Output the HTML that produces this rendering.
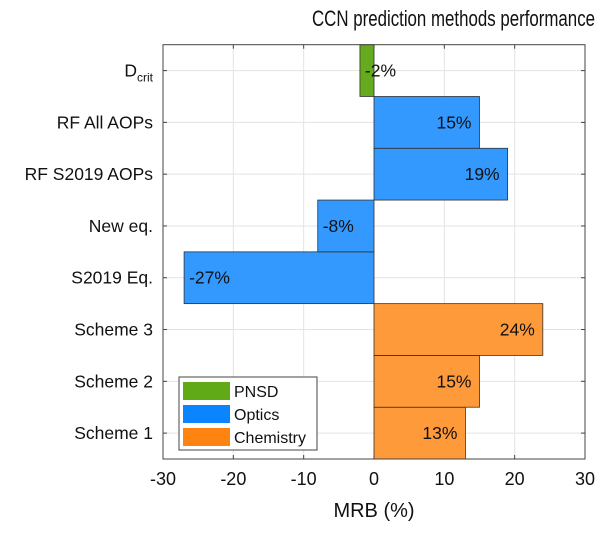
<!DOCTYPE html>
<html><head><meta charset="utf-8"><style>
body{margin:0;background:#fff;}
svg text{font-family:"Liberation Sans",Arial,sans-serif;fill:#111;}
</style></head><body>
<svg id="chart" width="600" height="528" viewBox="0 0 600 528" xmlns="http://www.w3.org/2000/svg"></svg>
<script>
const categories = ["Scheme 1","Scheme 2","Scheme 3","S2019 Eq.","New eq.","RF S2019 AOPs","RF All AOPs","Dcrit"];
const values = [13,15,24,-27,-8,19,15,-2];
const groups = ["Chemistry","Chemistry","Chemistry","Optics","Optics","Optics","Optics","PNSD"];
const xTicks = [-30,-20,-10,0,10,20,30];
const legendItems = ["PNSD","Optics","Chemistry"];

const svg = document.getElementById('chart');
const NS = "http://www.w3.org/2000/svg";
const L=163,R=585,T=44.7,B=459;
const xs = v => L + (v+30)/60*(R-L);
const ys = i => B - (i+0.5)/8*(B-T);
const barColor={PNSD:"#66aa1e",Optics:"#3399ff",Chemistry:"#ff9a3a"};
const legColor={PNSD:"#60a917",Optics:"#0a84ff",Chemistry:"#ff8310"};
function mk(tag,attrs,parent){const e=document.createElementNS(NS,tag);for(const k in attrs)e.setAttribute(k,attrs[k]);(parent||svg).appendChild(e);return e;}

mk('rect',{x:L,y:T,width:R-L,height:B-T,fill:'#fff'});
xTicks.forEach(t=>{
  const g=mk('line',{x1:xs(t),x2:xs(t),y1:T,y2:B,stroke:'#e3e3e3','stroke-width':1});
  
  
  const tl=mk('text',{x:xs(t),y:B+26,'text-anchor':'middle','font-size':18});
  tl.textContent=t;
  
  
  mk('line',{x1:xs(t),x2:xs(t),y1:B,y2:B-4,stroke:'#444'});
  mk('line',{x1:xs(t),x2:xs(t),y1:T,y2:T+4,stroke:'#444'});
});
categories.forEach((c,i)=>{
  const y=ys(i);
  const g=mk('line',{x1:L,x2:R,y1:y,y2:y,stroke:'#e3e3e3'});
  
  
  mk('line',{x1:L,x2:L+4,y1:y,y2:y,stroke:'#444'});
  mk('line',{x1:R,x2:R-4,y1:y,y2:y,stroke:'#444'});
  const tl=mk('text',{x:153,y:y+6,'text-anchor':'end','font-size':17.5});
  if(c==="Dcrit"){tl.innerHTML='D<tspan font-size="12" dy="5">crit</tspan>';}
  else tl.textContent=c;
  
  
});
const h=(B-T)/8;
values.forEach((v,i)=>{
  const x0=Math.min(xs(0),xs(v)),w=Math.abs(xs(v)-xs(0));
  const b=mk('rect',{x:x0,y:ys(i)-h/2,width:w,height:h,fill:barColor[groups[i]],stroke:'#333','stroke-width':0.8});
  
  
  const lbl=mk('text',{'font-size':17.5,y:ys(i)+6});
  if(v>=0){lbl.setAttribute('x',xs(v)-8);lbl.setAttribute('text-anchor','end');}
  else{lbl.setAttribute('x',xs(v)+5);lbl.setAttribute('text-anchor','start');}
  lbl.textContent=v+'%';
  
  
});
const ax=mk('rect',{x:L,y:T,width:R-L,height:B-T,fill:'none',stroke:'#444','stroke-width':1});


const lg=mk('g',{});


mk('rect',{x:179,y:377,width:138,height:73,fill:'#fff',stroke:'#444'},lg);
legendItems.forEach((n,k)=>{
  const y=382+k*23;
  const s=mk('rect',{x:183,y:y,width:47,height:18,fill:legColor[n]},lg);
  
  
  const t=mk('text',{x:234,y:y+15,'font-size':16},lg);
  t.textContent=n;
  
  
});
const xt=mk('text',{x:374,y:517,'text-anchor':'middle','font-size':20});
xt.textContent='MRB (%)';


const tt=mk('text',{x:312,y:26,'font-size':22,textLength:283,lengthAdjust:'spacingAndGlyphs'});
tt.textContent='CCN prediction methods performance';


</script>
</body></html>
